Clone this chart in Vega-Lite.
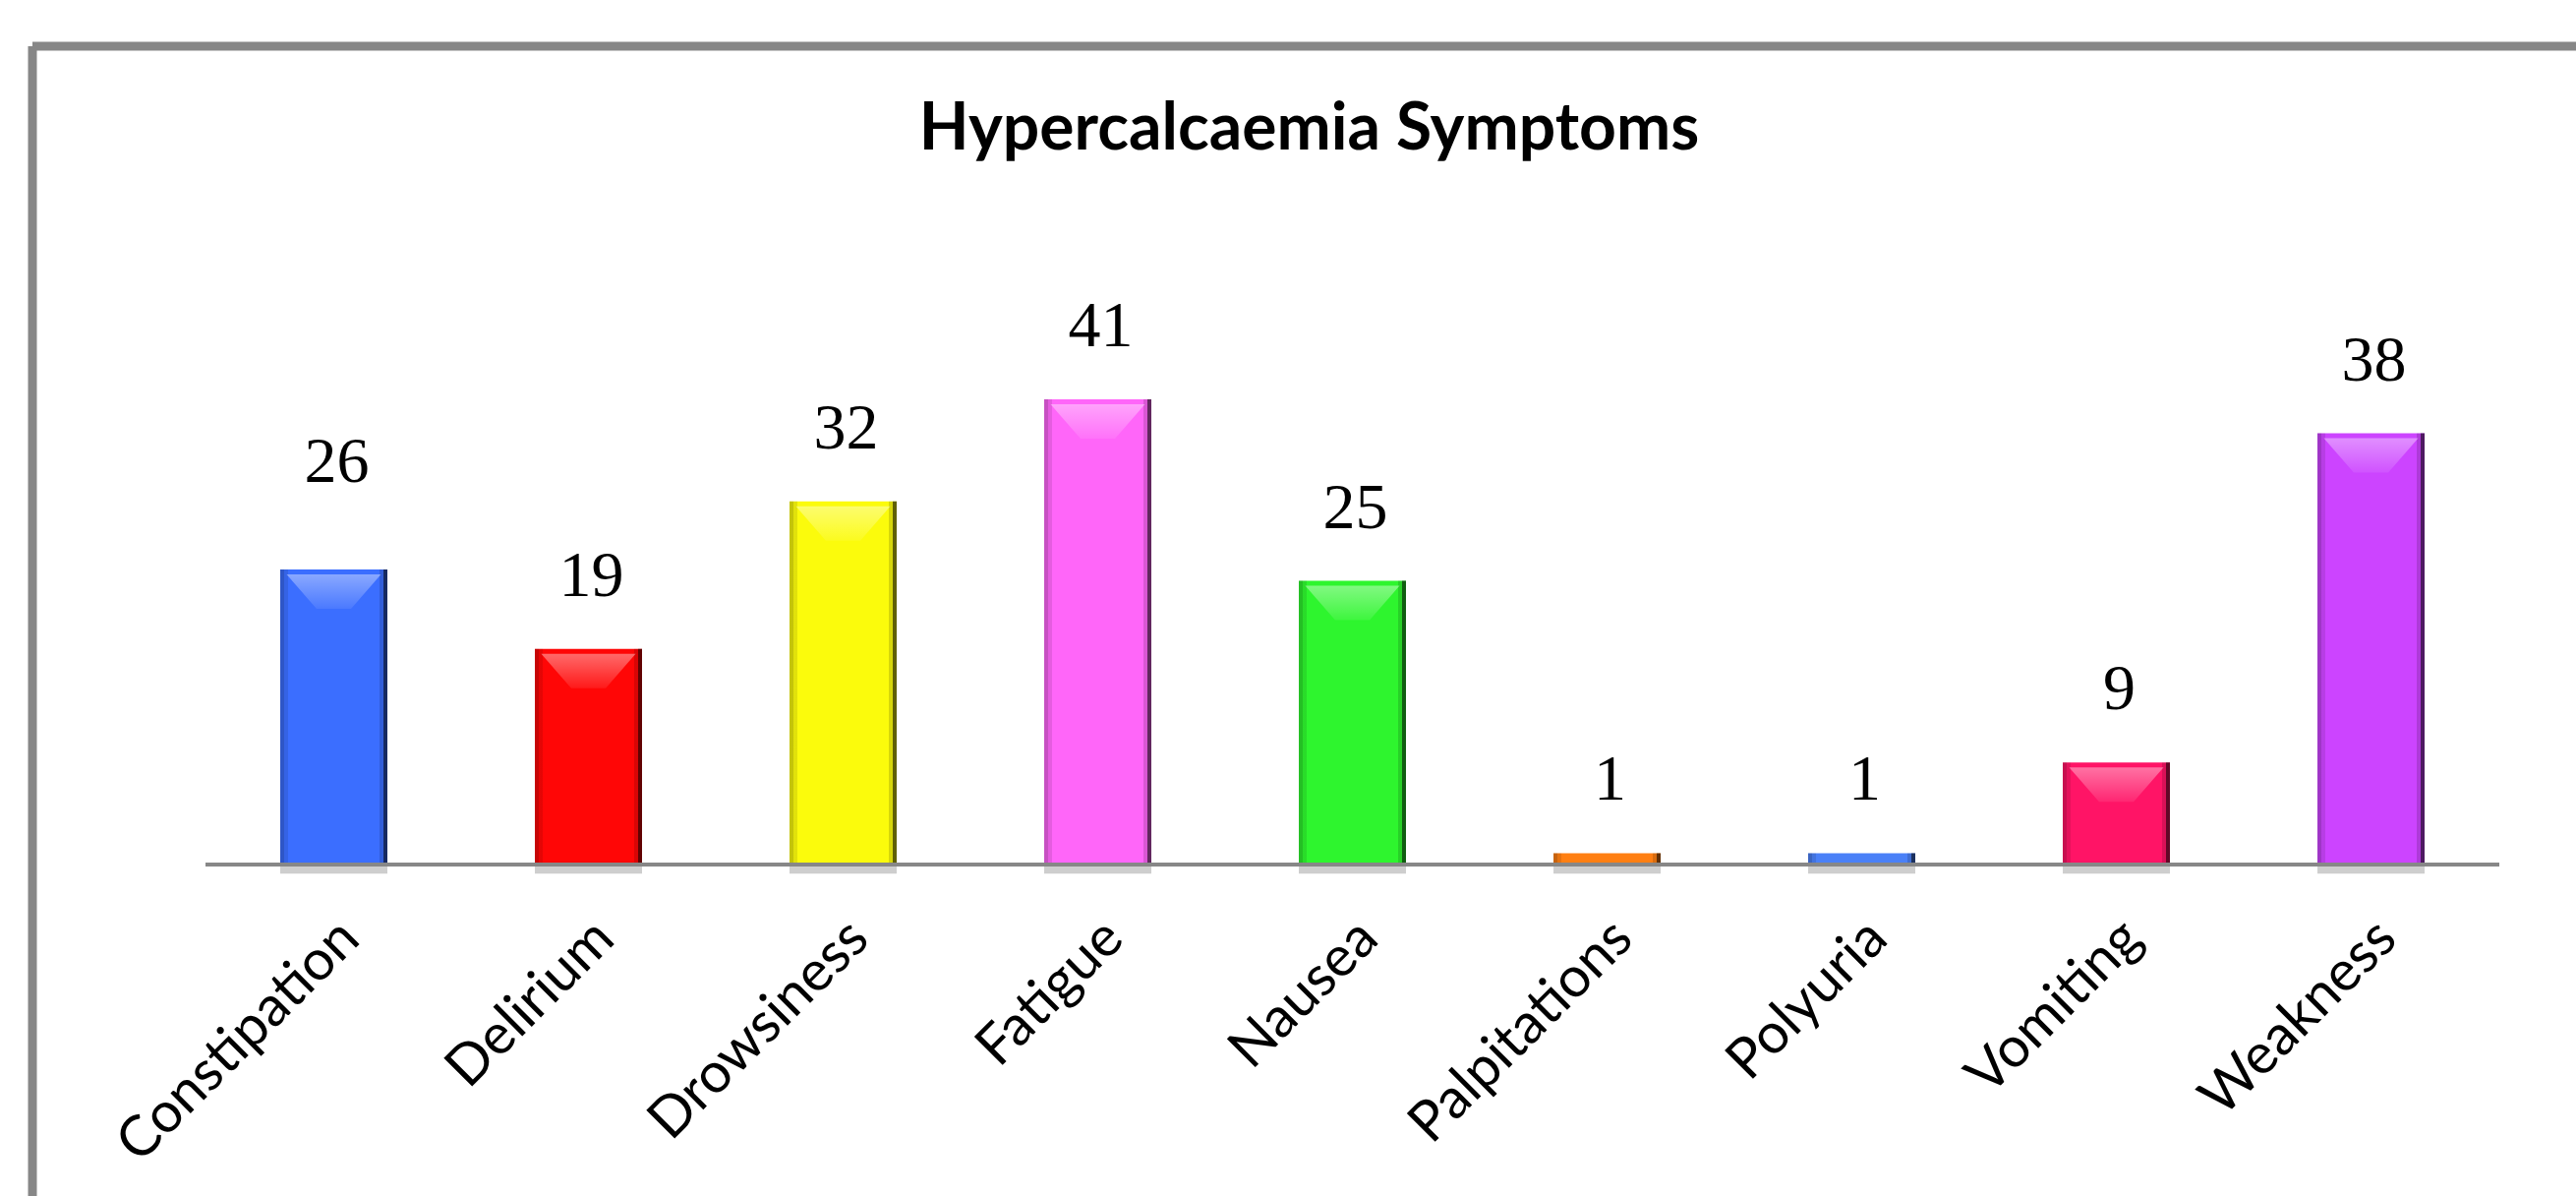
{
  "$schema": "https://vega.github.io/schema/vega-lite/v6.json",
  "width": 2587,
  "height": 1169,
  "autosize": {"type": "none"},
  "padding": {"left": 33, "top": 47, "right": 0, "bottom": 0},
  "background": "white",
  "title": {
    "text": "Hypercalcaemia Symptoms",
    "font": "Lato",
    "fontSize": 66,
    "fontWeight": "bold",
    "color": "#000000",
    "anchor": "middle",
    "frame": "group",
    "offset": -119,
    "dx": 5
  },
  "data": {
    "values": [
      {"symptom": "Constipation", "count": 26},
      {"symptom": "Delirium", "count": 19},
      {"symptom": "Drowsiness", "count": 32},
      {"symptom": "Fatigue", "count": 41},
      {"symptom": "Nausea", "count": 25},
      {"symptom": "Palpitations", "count": 1},
      {"symptom": "Polyuria", "count": 1},
      {"symptom": "Vomiting", "count": 9},
      {"symptom": "Weakness", "count": 38}
    ]
  },
  "encoding": {
    "x": {
      "field": "symptom",
      "type": "nominal",
      "sort": null,
      "scale": {"paddingInner": 0.5792, "paddingOuter": 0.7838, "align": 0.6207},
      "axis": {
        "title": null,
        "domain": false,
        "ticks": false,
        "grid": false,
        "offset": -337,
        "labelAngle": -45,
        "labelAlign": "right",
        "labelBaseline": "top",
        "labelFont": "Lato",
        "labelFontSize": 57,
        "labelColor": "#000000",
        "labelPadding": 46,
        "labelOffset": -3,
        "labelLimit": 1000,
        "labelOverlap": false,
        "labelFlush": false
      }
    }
  },
  "layer": [
    {
      "mark": {"type": "bar", "color": "#bdbdbd", "opacity": 0.75},
      "encoding": {
        "y": {"datum": 0, "type": "quantitative", "scale": {"domain": [-29.2, 72.1], "nice": false, "zero": false}, "axis": null},
        "y2": {"datum": -0.8}
      }
    },
    {
      "mark": {"type": "bar", "opacity": 1},
      "encoding": {
        "y": {"field": "count", "type": "quantitative", "stack": null, "scale": {"domain": [-29.2, 72.1], "nice": false, "zero": false}, "axis": null},
        "color": {
          "field": "symptom",
          "type": "nominal",
          "scale": {
            "domain": ["Constipation", "Delirium", "Drowsiness", "Fatigue", "Nausea", "Palpitations", "Polyuria", "Vomiting", "Weakness"],
            "range": ["#3b6eff", "#ff0606", "#fbfb0c", "#ff66f9", "#2ef52e", "#ff7f12", "#4a80f7", "#ff1466", "#cc44ff"]
          },
          "legend": null
        }
      }
    },
    {
      "mark": {
        "type": "bar",
        "opacity": 1,
        "fill": {
          "gradient": "linear",
          "x1": 0, "y1": 0, "x2": 1, "y2": 0,
          "stops": [
            {"offset": 0, "color": "rgba(0,0,0,0.22)"},
            {"offset": 0.037, "color": "rgba(0,0,0,0.22)"},
            {"offset": 0.038, "color": "rgba(0,0,0,0.1)"},
            {"offset": 0.075, "color": "rgba(0,0,0,0.1)"},
            {"offset": 0.076, "color": "rgba(0,0,0,0)"},
            {"offset": 0.924, "color": "rgba(0,0,0,0)"},
            {"offset": 0.925, "color": "rgba(0,0,0,0.15)"},
            {"offset": 0.962, "color": "rgba(0,0,0,0.15)"},
            {"offset": 0.963, "color": "rgba(0,0,0,0.62)"},
            {"offset": 1, "color": "rgba(0,0,0,0.62)"}
          ]
        }
      },
      "encoding": {
        "y": {"field": "count", "type": "quantitative", "stack": null}
      }
    },
    {
      "transform": [{"filter": "datum.count >= 5"}],
      "mark": {
        "type": "point",
        "filled": true,
        "opacity": 1,
        "strokeWidth": 0,
        "shape": "M-1,-1L1,-1L0.365,-0.27L-0.365,-0.27Z",
        "size": 9216,
        "yOffset": 53,
        "fill": {
          "gradient": "linear",
          "x1": 0, "y1": 0, "x2": 0, "y2": 1,
          "stops": [
            {"offset": 0, "color": "rgba(255,255,255,0.4)"},
            {"offset": 1, "color": "rgba(255,255,255,0.08)"}
          ]
        }
      },
      "encoding": {
        "y": {"field": "count", "type": "quantitative"}
      }
    },
    {
      "mark": {"type": "tick", "color": "#878787", "thickness": 4, "size": 261, "opacity": 1},
      "encoding": {
        "y": {"datum": 0, "type": "quantitative"}
      }
    },
    {
      "transform": [{"filter": "datum.symptom != 'Constipation'"}],
      "mark": {"type": "text", "font": "Liberation Serif", "fontSize": 66, "color": "#000000", "baseline": "alphabetic", "align": "center", "dy": -54, "dx": 3},
      "encoding": {
        "y": {"field": "count", "type": "quantitative"},
        "text": {"field": "count", "type": "quantitative"}
      }
    },
    {
      "transform": [{"filter": "datum.symptom == 'Constipation'"}],
      "mark": {"type": "text", "font": "Liberation Serif", "fontSize": 66, "color": "#000000", "baseline": "alphabetic", "align": "center", "dy": -89, "dx": 3},
      "encoding": {
        "y": {"field": "count", "type": "quantitative"},
        "text": {"field": "count", "type": "quantitative"}
      }
    }
  ],
  "config": {
    "view": {"stroke": "#878787", "strokeWidth": 9, "strokeDash": [2587, 3756, 1169, 0]}
  }
}
